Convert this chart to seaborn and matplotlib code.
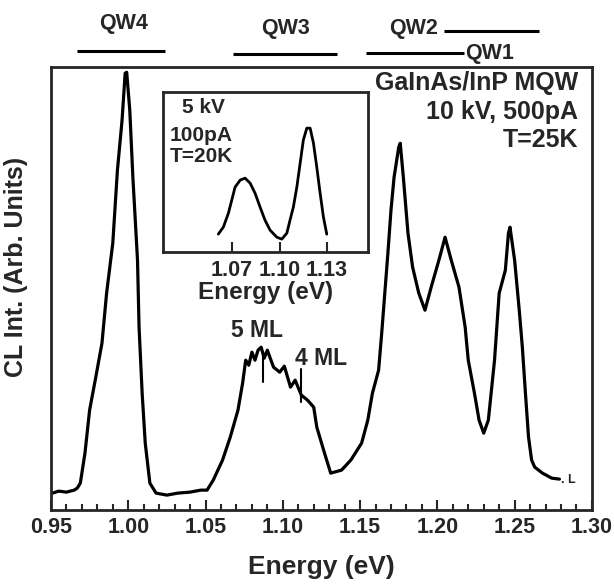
import numpy as np
import pandas as pd
import seaborn as sns
import matplotlib.pyplot as plt

sns.set_style("ticks")
plt.rcParams["font.family"] = ["Liberation Sans", "DejaVu Sans"]
plt.rcParams["font.weight"] = "bold"

# main CL spectrum (energy in eV, intensity in arb. units)
energy = [0.951, 0.955, 0.960, 0.965, 0.967, 0.969, 0.972, 0.975, 0.979, 0.983,
          0.986, 0.990, 0.993, 0.996, 0.998, 0.999, 1.001, 1.003, 1.006, 1.007,
          1.009, 1.011, 1.014, 1.018, 1.025, 1.032, 1.040, 1.047, 1.051, 1.055,
          1.061, 1.066, 1.071, 1.074, 1.076, 1.078, 1.080, 1.082, 1.084, 1.086,
          1.088, 1.090, 1.094, 1.098, 1.101, 1.105, 1.108, 1.112, 1.116, 1.120,
          1.122, 1.127, 1.131, 1.138, 1.144, 1.151, 1.155, 1.158, 1.162, 1.164,
          1.166, 1.168, 1.170, 1.172, 1.175, 1.176, 1.178, 1.181, 1.184, 1.188,
          1.192, 1.196, 1.201, 1.205, 1.209, 1.214, 1.218, 1.220, 1.224, 1.227,
          1.230, 1.233, 1.237, 1.240, 1.244, 1.246, 1.247, 1.250, 1.253, 1.255,
          1.257, 1.259, 1.261, 1.263, 1.268, 1.274, 1.279]
intensity = [17, 19, 18, 20, 22, 27, 57, 100, 133, 167,
             217, 267, 340, 390, 437, 438, 400, 333, 250, 183,
             117, 67, 27, 17, 15, 17, 18, 20, 20, 30,
             50, 73, 100, 127, 150, 145, 158, 150, 160, 163,
             152, 160, 143, 138, 144, 123, 130, 115, 110, 103,
             83, 57, 37, 40, 50, 67, 90, 117, 140, 177,
             217, 257, 300, 333, 363, 367, 333, 277, 243, 217,
             200, 223, 250, 273, 250, 223, 183, 150, 117, 90,
             77, 90, 150, 217, 240, 277, 283, 250, 200, 163,
             117, 73, 50, 43, 37, 32, 31]

# inset spectrum (5 kV, 100 pA, 20 K)
inset_energy = [1.0613, 1.0645, 1.0677, 1.0698, 1.0719, 1.0751, 1.0782, 1.0814,
                1.0845, 1.0877, 1.0908, 1.0940, 1.0982, 1.1014, 1.1046, 1.1066,
                1.1087, 1.1109, 1.1130, 1.1150, 1.1172, 1.1193, 1.1214, 1.1235,
                1.1256, 1.1277, 1.1298]
inset_intensity = [18, 25, 39, 52, 65, 72, 74, 69, 59, 45, 32, 22, 15, 13, 19, 32,
                   45, 65, 89, 112, 124, 124, 109, 85, 59, 35, 18]
inset_ticks = [1.07, 1.10, 1.13]

# quantum-well range bars above the plot
qw_names = ["QW4", "QW3", "QW2", "QW1"]
qw_start = [0.967, 1.068, 1.204, 1.154]
qw_end = [1.024, 1.135, 1.266, 1.217]

df = pd.DataFrame({"E": energy, "I": intensity})
df_in = pd.DataFrame({"E": inset_energy, "I": inset_intensity})

fig = plt.figure(figsize=(6.14, 5.85), dpi=100)
ax = fig.add_axes([0.083, 0.128, 0.881, 0.757])
sns.lineplot(data=df, x="E", y="I", color="black", linewidth=2.3, ax=ax,
             estimator=None, sort=False)
ax.set_xlim(0.95, 1.30)
ax.set_ylim(0, 443)
ax.set_xticks(np.arange(0.95, 1.301, 0.05))
ax.set_xticks(np.arange(0.95, 1.301, 0.01), minor=True)
ax.set_xticklabels([f"{t:.2f}" for t in np.arange(0.95, 1.301, 0.05)])
ax.set_yticks([])
ax.tick_params(axis="x", which="major", direction="in", length=7, width=1.5,
               labelsize=15.5, pad=5)
ax.tick_params(axis="x", which="minor", direction="in", length=4.5, width=1.5)
for s in ax.spines.values():
    s.set_linewidth(2)
ax.set_xlabel("Energy (eV)", fontsize=19, fontweight="bold", labelpad=12)
ax.set_ylabel("CL Int. (Arb. Units)", fontsize=18, fontweight="bold")
ax.yaxis.set_label_coords(-0.042, 0.55)

# annotations
ax.text(0.974, 0.964, "GaInAs/InP MQW", transform=ax.transAxes, ha="right",
        va="center", fontsize=18, fontweight="bold")
ax.text(0.974, 0.898, "10 kV, 500pA", transform=ax.transAxes, ha="right",
        va="center", fontsize=18, fontweight="bold")
ax.text(0.974, 0.835, "T=25K", transform=ax.transAxes, ha="right",
        va="center", fontsize=18, fontweight="bold")
ax.text(1.083, 180, "5 ML", ha="center", va="center", fontsize=16.5, fontweight="bold")
ax.text(1.108, 152, "4 ML", ha="left", va="center", fontsize=16.5, fontweight="bold")
ax.plot([1.087, 1.087], [158, 128], color="black", linewidth=1.5)
ax.plot([1.1115, 1.1115], [141, 108], color="black", linewidth=1.5)
ax.text(1.280, 30, ". L", ha="left", va="center", fontsize=9, fontweight="bold")

# QW bars and labels
bar_y = [459, 456, 479, 457]
for x0, x1, y in zip(qw_start, qw_end, bar_y):
    ax.plot([x0, x1], [y, y], color="black", linewidth=2.2, clip_on=False,
            solid_capstyle="butt")
ax.text(0.9968, 487, qw_names[0], ha="center", va="center", fontsize=15.5,
        fontweight="bold", clip_on=False)
ax.text(1.1019, 482, qw_names[1], ha="center", va="center", fontsize=15.5,
        fontweight="bold", clip_on=False)
ax.text(1.1844, 482, qw_names[2], ha="center", va="center", fontsize=15.5,
        fontweight="bold", clip_on=False)
ax.text(1.2338, 457, qw_names[3], ha="center", va="center", fontsize=15.5,
        fontweight="bold", clip_on=False)

# inset
axi = fig.add_axes([0.2655, 0.569, 0.334, 0.2735])
sns.lineplot(data=df_in, x="E", y="I", color="black", linewidth=2.0, ax=axi,
             estimator=None, sort=False)
axi.set_xlim(1.0264, 1.1559)
axi.set_ylim(0, 160)
axi.set_xticks(inset_ticks)
axi.set_xticklabels([f"{t:.2f}" for t in inset_ticks])
axi.set_yticks([])
axi.tick_params(axis="x", direction="in", length=7, width=1.5, labelsize=15.5, pad=6)
for s in axi.spines.values():
    s.set_linewidth(2)
axi.set_xlabel("Energy (eV)", fontsize=17.5, fontweight="bold", labelpad=0)
axi.set_ylabel("")
axi.text(0.093, 0.906, "5 kV", transform=axi.transAxes, ha="left", va="center",
         fontsize=15, fontweight="bold")
axi.text(0.034, 0.731, "100pA", transform=axi.transAxes, ha="left", va="center",
         fontsize=15, fontweight="bold")
axi.text(0.034, 0.60, "T=20K", transform=axi.transAxes, ha="left", va="center",
         fontsize=15, fontweight="bold")

fig.savefig("out.png", dpi=100)
